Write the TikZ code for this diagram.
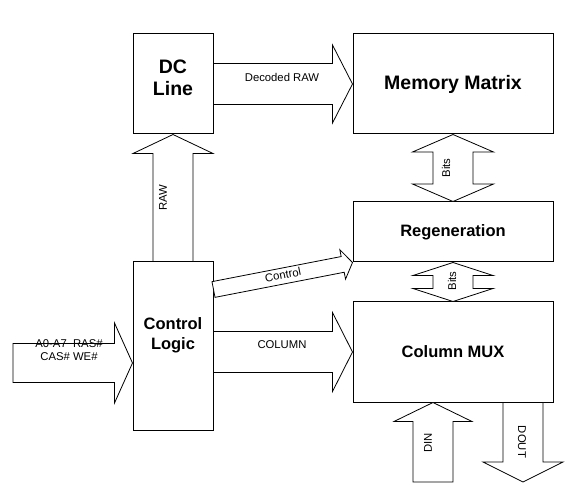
\documentclass[tikz,border=0pt]{standalone}
\usepackage{fontspec}
\setmainfont{Liberation Sans}
\usetikzlibrary{calc}

% block arrow: #1 tail, #2 tip, #3 half shaft, #4 half head, #5 head length
\newcommand{\blockarrow}[5]{%
  \coordinate (hd) at ($(#2)!#5!(#1)$);
  \draw[barrow] ($(#1)!#3!90:(#2)$) -- ($(hd)!#3!90:(#2)$) -- ($(hd)!#4!90:(#2)$) -- (#2)
    -- ($(hd)!#4!-90:(#2)$) -- ($(hd)!#3!-90:(#2)$) -- ($(#1)!#3!-90:(#2)$) -- cycle;
}
% same with a head at both ends
\newcommand{\twowayarrow}[5]{%
  \coordinate (hd) at ($(#2)!#5!(#1)$);
  \coordinate (tl) at ($(#1)!#5!(#2)$);
  \draw[barrow] (#1) -- ($(tl)!#4!90:(#2)$) -- ($(tl)!#3!90:(#2)$) -- ($(hd)!#3!90:(#2)$)
    -- ($(hd)!#4!90:(#2)$) -- (#2) -- ($(hd)!#4!-90:(#2)$) -- ($(hd)!#3!-90:(#2)$)
    -- ($(tl)!#3!-90:(#2)$) -- ($(tl)!#4!-90:(#2)$) -- cycle;
}

\begin{document}
\begin{tikzpicture}[
    x=1pt, y=-1pt,
    block/.style={draw, line width=1pt, fill=white, inner sep=0pt},
    bigtitle/.style={font=\fontsize{19.5}{22}\selectfont\bfseries, align=center},
    title/.style={font=\fontsize{16.5}{20}\selectfont\bfseries, align=center},
    barrow/.style={draw, line width=0.8pt, fill=white, line join=miter},
    lbl/.style={font=\fontsize{11.3}{13}\selectfont, inner sep=0pt}
  ]
  \useasboundingbox (0,0) rectangle (574,500);

  % Blocks
  \node[block, minimum width=80pt, minimum height=100pt,
        label={[bigtitle, yshift=6pt]center:DC\\Line}] (dc) at (173,84) {};
  \node[block, bigtitle, minimum width=200pt, minimum height=100pt] (mem) at (453,84) {Memory Matrix};
  \node[block, title, minimum width=200pt, minimum height=60pt] (regen) at (453,232) {Regeneration};
  \node[block, title, minimum width=200pt, minimum height=100pt] (mux) at (453,352) {Column MUX};
  \node[block, minimum width=80pt, minimum height=168pt,
        label={[title, yshift=11pt]center:Control\\Logic}] (ctrl) at (173,346) {};

  % Arrow ends
  \coordinate (ctrlout) at ($(ctrl.north east)+(0,28)$);
  \coordinate (colout) at (ctrl.east |- mux.west);
  \coordinate (inS) at (13,363);
  \coordinate (inE) at (ctrl.west |- inS);
  \coordinate (dinS) at (433,482);
  \coordinate (dinE) at (dinS |- mux.south);
  \coordinate (doutE) at (523,482);
  \coordinate (doutS) at (doutE |- mux.south);

  % Block arrows
  \blockarrow{dc.east}{mem.west}{20.5pt}{39pt}{20pt}
  \blockarrow{ctrl.north}{dc.south}{20pt}{40pt}{19pt}
  \blockarrow{ctrlout}{regen.south west}{8pt}{15pt}{10pt}
  \blockarrow{colout}{mux.west}{20.5pt}{39.5pt}{20pt}
  \blockarrow{inS}{inE}{19.5pt}{40pt}{18pt}
  \twowayarrow{regen.north}{mem.south}{20pt}{40.5pt}{17.5pt}
  \twowayarrow{mux.north}{regen.south}{20pt}{40pt}{13pt}
  \blockarrow{dinS}{dinE}{20pt}{39pt}{19pt}
  \blockarrow{doutS}{doutE}{20pt}{40pt}{20pt}

  % Labels
  \node[lbl] (declbl) at (282,77) {Decoded RAW};
  \node[lbl, rotate=90] (rawlbl) at (163,198) {RAW};
  \node[lbl, rotate=11.3] (ctrllbl) at (283,275) {Control};
  \node[lbl] (collbl) at (282,345) {COLUMN};
  \node[lbl, align=center] (inlbl) at (69,350) {A0-A7\ \ RAS\#\\CAS\# WE\#};
  \node[lbl, rotate=90] (bitslbl) at (446,168) {Bits};
  \node[lbl, rotate=90] (bitslblb) at (452,281) {Bits};
  \node[lbl, rotate=90] (dinlbl) at (428,443) {DIN};
  \node[lbl, rotate=-90] (doutlbl) at (522,442) {DOUT};
\end{tikzpicture}
\end{document}
